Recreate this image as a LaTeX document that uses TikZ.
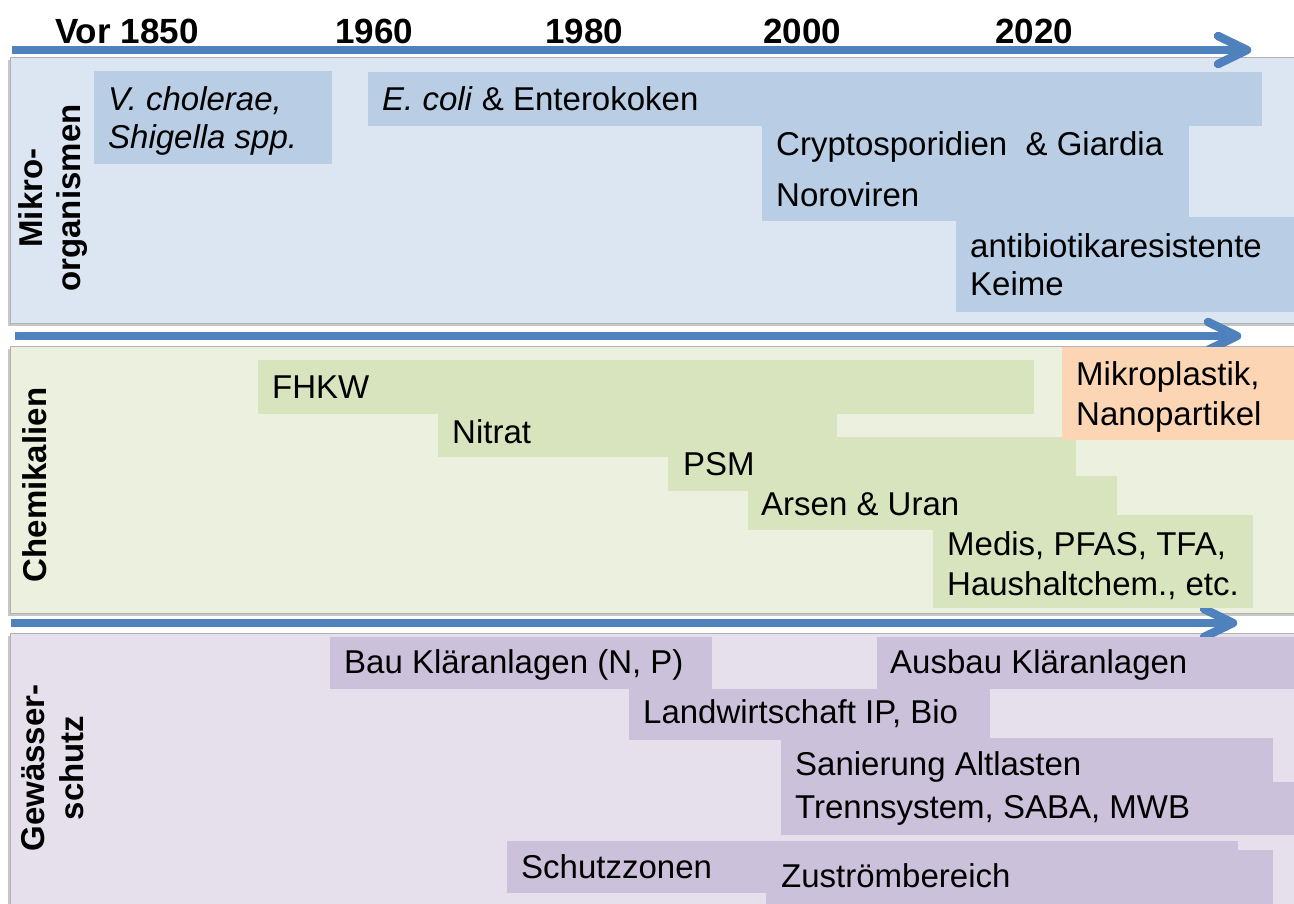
\documentclass[tikz,border=0pt]{standalone}
\usepackage{fontspec}
\setmainfont{Liberation Sans}

\definecolor{axisblue}{HTML}{4F81BD}
\definecolor{mikroback}{HTML}{DCE6F2}
\definecolor{mikrobar}{HTML}{B9CDE5}
\definecolor{chemback}{HTML}{EBF1DE}
\definecolor{chembar}{HTML}{D7E4BD}
\definecolor{plastbar}{HTML}{FCD5B5}
\definecolor{schutzback}{HTML}{E5E0EC}
\definecolor{schutzbar}{HTML}{CCC1DA}

\begin{document}
\begin{tikzpicture}[x=1pt,y=-1pt,
    axis/.style={line width=7.5pt,draw=axisblue},
    axishead/.style={line width=8.5pt,draw=axisblue,line cap=round,line join=round},
    axisshade/.style={line width=7pt,draw=black,opacity=0.15,yshift=-2.5pt},
    panel/.style={draw=black!30,line width=1pt},
    panelshade/.style={fill=black!22},
    year/.style={font=\fontsize{35}{42}\selectfont\bfseries,anchor=base west,inner sep=0pt},
    side/.style={font=\fontsize{33}{38}\selectfont\bfseries,rotate=90,anchor=base,inner sep=0pt},
    item/.style={font=\fontsize{33}{38}\selectfont,anchor=base west,inner sep=0pt}]
  \useasboundingbox (0,0) rectangle (1294,903);

  % panels
  \fill[panelshade] (8,60) rectangle (1300,326);
  \filldraw[panel,fill=mikroback] (10,57) rectangle (1300,323);
  \fill[panelshade] (8,349) rectangle (1300,616);
  \filldraw[panel,fill=chemback] (10,346) rectangle (1300,613);
  \fill[panelshade] (8,636) rectangle (1300,910);
  \filldraw[panel,fill=schutzback] (10,633) rectangle (1300,910);

  % time axes
  \coordinate (t1s) at (12,50);
  \coordinate (t1e) at (1247,50);
  \coordinate (t2s) at (15,336);
  \coordinate (t2e) at (1237,336);
  \coordinate (t3s) at (11,623);
  \coordinate (t3e) at (1233,623);
  \foreach \t in {t1,t2,t3} {
    \draw[axisshade] (\t s) -- (\t e);
    \draw[axis] (\t s) -- (\t e);
    \draw[axishead] ([shift={(-29,-14)}]\t e) -- (\t e) -- ([shift={(-29,14)}]\t e);
  }

  \node[year] (y1850) at (55,43) {Vor 1850};
  \node[year] (y1960) at (335,43) {1960};
  \node[year] (y1980) at (545,43) {1980};
  \node[year] (y2000) at (763,43) {2000};
  \node[year] (y2020) at (995,43) {2020};

  % Mikroorganismen
  \node[side] (mikro1) at (42,198) {Mikro-};
  \node[side] (mikro2) at (80,198) {organismen};
  \fill[mikrobar] (94,71) rectangle (332,164);
  \fill[mikrobar] (368,72) rectangle (1262,126);
  \fill[mikrobar] (762,125) rectangle (1189,221);
  \fill[mikrobar] (956,217) rectangle (1300,312);
  \node[item] (vch) at (108,110) {\itshape V. cholerae,};
  \node[item] (shig) at (108,148) {\itshape Shigella spp.};
  \node[item] (ecoli) at (382,110) {\textit{E. coli} \& Enterokoken};
  \node[item] (crypto) at (776,155) {Cryptosporidien\ \ \& Giardia};
  \node[item] (noro) at (776,206) {Noroviren};
  \node[item] (anti) at (970,257) {antibiotikaresistente};
  \node[item] (keime) at (970,295) {Keime};

  % Chemikalien
  \node[side] (chem) at (46,485) {Chemikalien};
  \fill[chembar] (258,360) rectangle (1034,414);
  \fill[chembar] (438,414) rectangle (837,457);
  \fill[chembar] (668,437) rectangle (1076,491);
  \fill[chembar] (748,476) rectangle (1117,530);
  \fill[chembar] (933,515) rectangle (1253,608);
  \fill[plastbar] (1062,347) rectangle (1300,440);
  \node[item] (fhkw) at (272,398) {FHKW};
  \node[item] (nitrat) at (452,443) {Nitrat};
  \node[item] (psm) at (683,475) {PSM};
  \node[item] (arsen) at (761,515) {Arsen \& Uran};
  \node[item] (medis) at (947,555) {Medis, PFAS, TFA,};
  \node[item] (haus) at (947,595) {Haushaltchem., etc.};
  \node[item] (mikpl) at (1076,385) {Mikroplastik,};
  \node[item] (nano) at (1076,425) {Nanopartikel};

  % Gewaesserschutz
  \node[side] (gew1) at (44,768) {Gewässer-};
  \node[side] (gew2) at (83,768) {schutz};
  \fill[schutzbar] (330,637) rectangle (712,689);
  \fill[schutzbar] (877,637) rectangle (1300,689);
  \fill[schutzbar] (629,689) rectangle (990,740);
  \fill[schutzbar] (781,738) rectangle (1273,782);
  \fill[schutzbar] (781,782) rectangle (1300,835);
  \fill[schutzbar] (507,841) rectangle (1238,893);
  \fill[schutzbar] (766,850) rectangle (1273,910);
  \node[item] (bau) at (344,673) {Bau Kläranlagen (N, P)};
  \node[item] (ausbau) at (890,673) {Ausbau Kläranlagen};
  \node[item] (landw) at (643,723) {Landwirtschaft IP, Bio};
  \node[item] (sanier) at (795,775) {Sanierung Altlasten};
  \node[item] (trenn) at (795,818) {Trennsystem, SABA, MWB};
  \node[item] (schutzz) at (521,878) {Schutzzonen};
  \node[item] (zustr) at (781,887) {Zuströmbereich};
\end{tikzpicture}
\end{document}
